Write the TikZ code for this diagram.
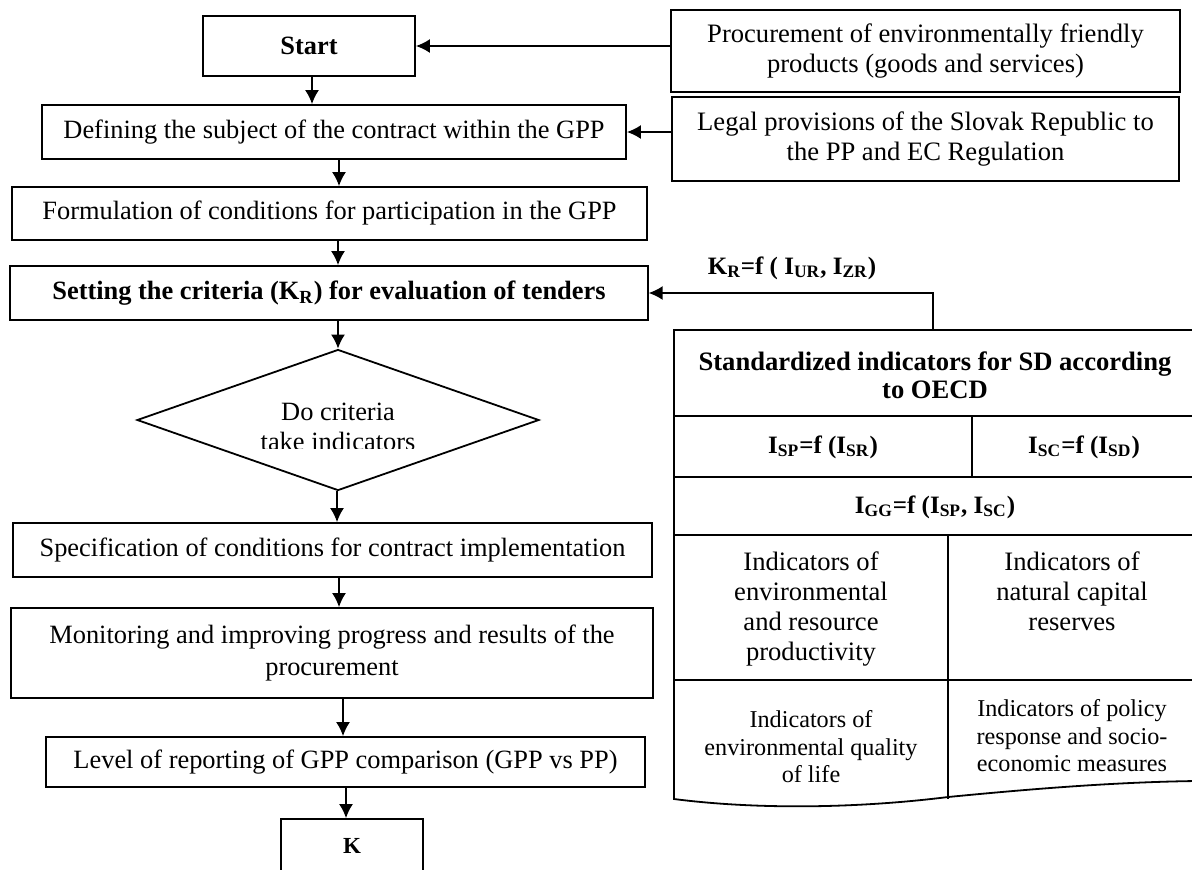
\documentclass[tikz,border=0pt]{standalone}
\usepackage{fontspec}
\setmainfont{Liberation Serif}
\usetikzlibrary{shapes.geometric,arrows.meta,positioning,calc}

\begin{document}
\begin{tikzpicture}[x=0.5pt, y=-0.5pt,
    procbox/.style={rectangle, draw, line width=0.9pt, align=center, inner sep=1pt, font=\fontsize{13.2}{15.8}\selectfont},
    srcbox/.style={rectangle, draw, line width=0.9pt, align=center, inner sep=1pt, font=\fontsize{13.3}{15}\selectfont},
    decision/.style={diamond, draw, line width=0.9pt, inner sep=0pt},
    cell/.style={align=center, inner sep=0pt, font=\fontsize{13.3}{15}\selectfont},
    formula/.style={align=center, inner sep=0pt, font=\bfseries\fontsize{12.5}{14}\selectfont},
    smallcell/.style={align=center, inner sep=0pt, font=\fontsize{12.1}{13.75}\selectfont},
    flow/.style={->, line width=0.9pt},
    >={Latex[length=7pt,width=7pt]}]

  \useasboundingbox (0,0) rectangle (1192,869);

  % main process column
  \node[procbox, minimum width=106pt, minimum height=30pt] (start) at (309,46) {\textbf{Start}};
  \node[procbox, minimum width=292pt, minimum height=27pt] (define) at (334,132) {Defining the subject of the contract within the GPP};
  \node[procbox, minimum width=317.5pt, minimum height=26.5pt] (formul) at (329.5,213.5) {Formulation of conditions for participation in the GPP};
  \node[procbox, minimum width=318.75pt, minimum height=27pt] (setting) at (329,293) {\textbf{Setting the criteria (K\textsubscript{R}) for evaluation of tenders}};
  \node[decision, minimum width=201pt, minimum height=70.5pt] (check) at (338,420) {};
  \begin{scope}
    \clip (137,350) rectangle (540,448);
    \node[cell, font=\fontsize{13.2}{15}\selectfont] (checktext) at (338,427) {Do criteria\\take indicators};
  \end{scope}
  \node[procbox, minimum width=319.5pt, minimum height=27pt] (spec) at (332.5,550) {Specification of conditions for contract implementation};
  \node[procbox, minimum width=321.25pt, minimum height=45pt] (monit) at (332,653) {Monitoring and improving progress and results of the\\procurement};
  \node[procbox, minimum width=299.5pt, minimum height=25pt] (level) at (345.5,762) {Level of reporting of GPP comparison (GPP vs PP)};
  \node[procbox, minimum width=71pt, minimum height=27pt, font=\fontsize{11.5}{13}\selectfont] (kend) at (352,846) {\textbf{K}};

  \foreach \a/\b/\x in {start/define/312, define/formul/339, formul/setting/338, setting/check/338,
                        check/spec/337, spec/monit/339, monit/level/343, level/kend/346}
    \draw[flow] (\a.south -| \x,0) -- (\b.north -| \x,0);

  % inputs on the right
  \node[srcbox, minimum width=254.5pt, minimum height=41pt] (proc) at (925.5,51) {Procurement of environmentally friendly\\products (goods and services)};
  \node[srcbox, minimum width=253.5pt, minimum height=42pt] (legal) at (925.5,139) {Legal provisions of the Slovak Republic to\\the PP and EC Regulation};
  \draw[flow] (start.east -| proc.west) -- (start.east);
  \draw[flow] (define.east -| legal.west) -- (define.east);

  % OECD indicator table
  \draw[line width=0.9pt] (1196,330) -- (674,330) -- (674,799)
    .. controls (760,810) and (860,808) .. (948,797)
    .. controls (1040,788) and (1120,782) .. (1196,781);
  \foreach \y in {416,477,535,680}
    \draw[line width=0.9pt] (674,\y) -- (1196,\y);
  \draw[line width=0.9pt] (972,416) -- (972,477);
  \draw[line width=0.9pt] (948,535) -- (948,799);

  \node[formula, font=\bfseries\fontsize{13.3}{13.8}\selectfont] (head) at (935,375) {Standardized indicators for SD according\\to OECD};
  \node[formula] (isp) at (823,447) {I\textsubscript{SP}=f (I\textsubscript{SR})};
  \node[formula] (isc) at (1084,447) {I\textsubscript{SC}=f (I\textsubscript{SD})};
  \node[formula] (igg) at (935,507) {I\textsubscript{GG}=f (I\textsubscript{SP}, I\textsubscript{SC})};
  \node[cell, anchor=north] (prod) at (811,551) {Indicators of\\environmental\\and resource\\productivity};
  \node[cell, anchor=north] (capital) at (1072,551) {Indicators of\\natural capital\\reserves};
  \node[smallcell] (quality) at (811,747) {Indicators of\\environmental quality\\of life};
  \node[smallcell] (policy) at (1072,736) {Indicators of policy\\response and socio-\\economic measures};

  % criteria feedback
  \coordinate (tap) at (933,330);
  \draw[flow] (tap) |- (setting.east);
  \node[formula] (krlabel) at (792,268) {K\textsubscript{R}=f ( I\textsubscript{UR}, I\textsubscript{ZR})};
\end{tikzpicture}
\end{document}
